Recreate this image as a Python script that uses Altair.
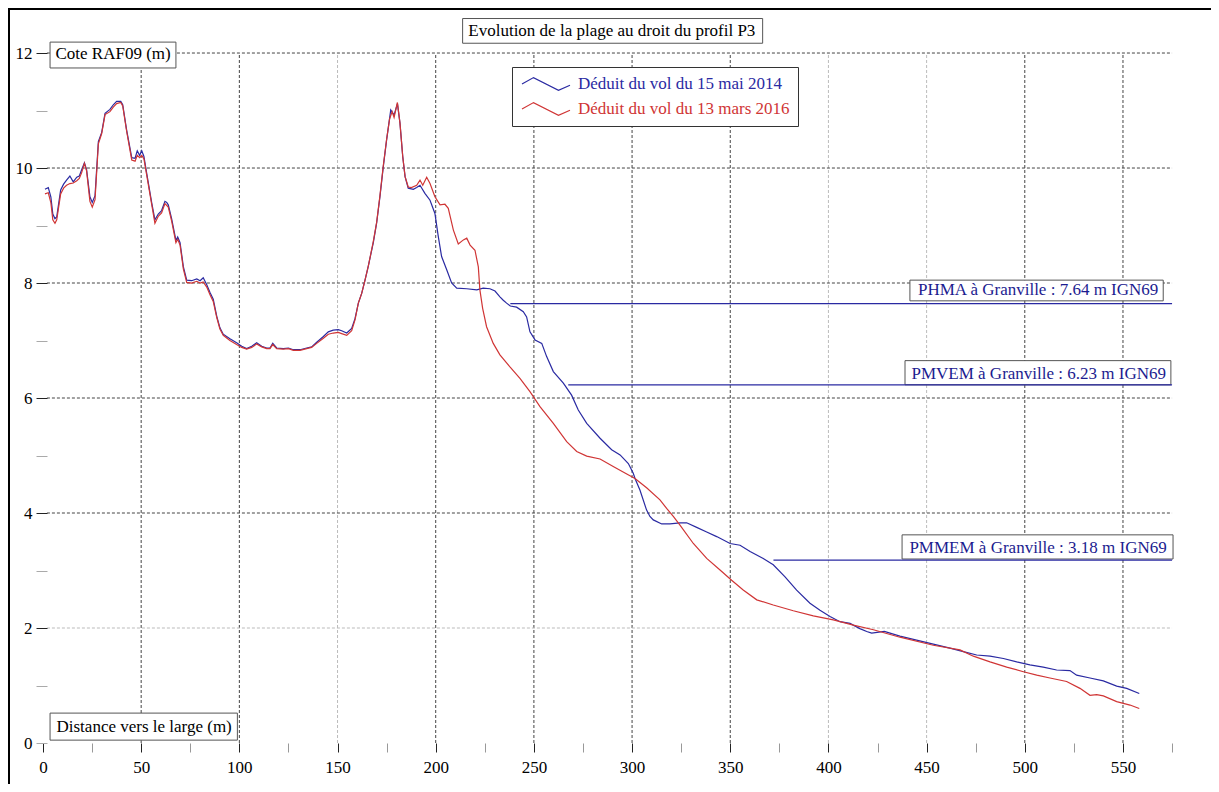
import altair as alt
import pandas as pd

# ---------------- data ----------------
series_names = ["Déduit du vol du 15 mai 2014", "Déduit du vol du 13 mars 2016"]

dist_2014 = [1, 2.7, 4, 5, 6.1, 7, 9, 10.5, 12, 13.7, 15.4, 17.2, 18.5, 19.7, 21.1, 22.2, 23.9, 25.1, 26.5,
             28.2, 29.9, 31.6, 34.1, 35.8, 37.5, 39.6, 40.6, 42.6, 45.2, 46.9, 48.0, 49.2, 50.3, 51.4, 52.8,
             55.4, 57.0, 58.7, 60.4, 62.1, 63.0, 63.8, 65.5, 67.7, 68.6, 69.8, 71.5, 73.2, 75.7, 78.3, 80,
             81.6, 83.4, 85, 86.7, 88.5, 90.1, 91.8, 95.2, 98.6, 101.2, 103.7, 106.3, 108.8, 111.4, 113.9,
             115.6, 117.0, 119, 122.4, 125, 127.5, 130.9, 134.3, 136.8, 139.4, 142.8, 145.3, 147.8, 150.4,
             152.1, 154.7, 157.2, 158.9, 160.6, 162.3, 164, 165.7, 168.2, 169.9, 171.6, 173.3, 175.0, 177.1,
             178.8, 180.5, 181.8, 183.2, 184.4, 186, 188.6, 190.3, 192, 194.5, 197.1, 199.6, 201.3, 203,
             205.6, 208.1, 210.7, 215.8, 220.9, 224.2, 227.6, 230.2, 232.7, 234.4, 236.1, 238, 241.2, 244.6,
             246.3, 248, 250.6, 254, 256.5, 259.9, 265, 269.2, 272.6, 276.9, 283.7, 289.6, 293.9, 298.1,
             300.6, 301.5, 304, 307.4, 309.1, 310.8, 315.1, 319.3, 324.4, 327.8, 332.9, 338, 343.1, 349.9,
             355, 360.1, 366.8, 371.9, 377.9, 383.8, 390.6, 395.7, 400.8, 405.9, 411, 416, 419.5, 422, 428.5,
             436.4, 444.9, 453.4, 461.9, 468.7, 475.5, 482.3, 489.1, 495.9, 502.6, 509.4, 516.2, 523, 526.4,
             533.2, 540, 546.8, 551.9, 558.3]
cote_2014 = [9.63, 9.66, 9.50, 9.20, 9.12, 9.15, 9.62, 9.72, 9.79, 9.86, 9.76, 9.84, 9.86, 9.97, 10.09, 9.97,
             9.50, 9.40, 9.52, 10.46, 10.62, 10.95, 11.02, 11.10, 11.16, 11.16, 11.10, 10.66, 10.18, 10.17,
             10.30, 10.22, 10.30, 10.20, 9.91, 9.39, 9.10, 9.20, 9.26, 9.42, 9.40, 9.36, 9.12, 8.74, 8.80,
             8.70, 8.28, 8.05, 8.04, 8.07, 8.04, 8.09, 7.97, 7.84, 7.72, 7.42, 7.22, 7.11, 7.03, 6.96, 6.90,
             6.86, 6.90, 6.96, 6.90, 6.87, 6.87, 6.95, 6.87, 6.86, 6.87, 6.84, 6.84, 6.87, 6.89, 6.97, 7.07,
             7.15, 7.18, 7.19, 7.17, 7.13, 7.21, 7.38, 7.65, 7.82, 8.05, 8.30, 8.70, 9.04, 9.50, 10.02,
             10.49, 11.01, 10.92, 11.12, 10.78, 10.20, 9.85, 9.65, 9.63, 9.66, 9.70, 9.56, 9.44, 9.21, 8.81,
             8.46, 8.23, 8.00, 7.91, 7.90, 7.88, 7.91, 7.90, 7.86, 7.76, 7.70, 7.65, 7.60, 7.58, 7.50, 7.41,
             7.15, 7.01, 6.95, 6.72, 6.46, 6.26, 6.05, 5.79, 5.56, 5.30, 5.10, 5.01, 4.86, 4.69, 4.60, 4.40,
             4.05, 3.94, 3.88, 3.81, 3.81, 3.83, 3.83, 3.75, 3.67, 3.59, 3.47, 3.44, 3.33, 3.21, 3.10, 2.89,
             2.66, 2.43, 2.31, 2.20, 2.11, 2.08, 1.99, 1.94, 1.91, 1.94, 1.86, 1.79, 1.72, 1.65, 1.59, 1.53,
             1.51, 1.47, 1.41, 1.36, 1.32, 1.27, 1.26, 1.18, 1.13, 1.08, 0.99, 0.95, 0.86]

dist_2016 = [1, 2.7, 4, 5, 6.1, 7, 9, 10.5, 12, 13.7, 15.4, 17.2, 18.5, 19.7, 21.1, 22.2, 23.9, 25.1, 26.5,
             28.2, 29.9, 31.6, 34.1, 35.8, 37.5, 39.6, 40.6, 42.6, 45.2, 46.9, 48.0, 49.2, 50.3, 51.4, 52.8,
             55.4, 57.0, 58.7, 60.4, 62.1, 63.8, 65.5, 67.7, 68.6, 69.8, 71.5, 73.2, 75.7, 78.3, 80, 81.6,
             83.4, 85, 86.7, 88.5, 90.1, 91.8, 95.2, 98.6, 101.2, 103.7, 106.3, 108.8, 111.4, 113.9, 115.6,
             117.0, 119, 122.4, 125, 127.5, 130.9, 134.3, 136.8, 139.4, 142.8, 145.3, 147.8, 150.4, 152.1,
             154.7, 157.2, 158.9, 160.6, 162.3, 164, 165.7, 168.2, 169.9, 171.6, 173.3, 175.0, 176.5, 177.8,
             178.8, 180.5, 181.8, 183.2, 184.4, 186, 187.6, 190.3, 192, 193.4, 195.4, 197.1, 199.6, 202.2,
             204.7, 206.4, 209, 211.5, 214.1, 215.8, 217.5, 220, 221.7, 222.5, 223.9, 225.9, 229.3, 232.7,
             237.8, 242.9, 248, 253.1, 259.9, 266.7, 271.8, 276.9, 283.7, 290.4, 297.3, 301.5, 307.4, 314.2,
             317.6, 321, 324.4, 331.2, 338, 344.8, 350.7, 356.6, 363.5, 371.9, 382.1, 392.3, 402.5, 412.7,
             422.9, 436.4, 453.4, 467, 473.8, 482.3, 490.8, 499.3, 506.1, 512.8, 521.3, 528.1, 533.2, 536.6,
             540, 546.8, 553.6, 558.3]
cote_2016 = [9.55, 9.57, 9.40, 9.10, 9.04, 9.10, 9.55, 9.65, 9.70, 9.73, 9.74, 9.78, 9.82, 9.92, 10.08, 9.95,
             9.42, 9.32, 9.45, 10.42, 10.60, 10.93, 10.98, 11.06, 11.12, 11.14, 11.08, 10.64, 10.14, 10.12,
             10.22, 10.18, 10.22, 10.16, 9.88, 9.36, 9.04, 9.16, 9.22, 9.38, 9.32, 9.08, 8.70, 8.76, 8.66,
             8.24, 8.01, 8.00, 8.03, 8.00, 8.02, 7.93, 7.80, 7.68, 7.40, 7.20, 7.09, 7.00, 6.93, 6.88, 6.85,
             6.88, 6.94, 6.89, 6.86, 6.86, 6.93, 6.86, 6.85, 6.86, 6.83, 6.83, 6.86, 6.88, 6.95, 7.04, 7.11,
             7.13, 7.14, 7.12, 7.09, 7.17, 7.36, 7.65, 7.82, 8.05, 8.30, 8.72, 9.05, 9.52, 10.04, 10.50,
             10.85, 10.98, 10.88, 11.14, 10.78, 10.20, 9.85, 9.67, 9.66, 9.70, 9.79, 9.70, 9.84, 9.73, 9.50,
             9.36, 9.37, 9.30, 8.92, 8.68, 8.75, 8.78, 8.66, 8.57, 8.28, 7.88, 7.56, 7.24, 6.95, 6.75, 6.54,
             6.34, 6.11, 5.85, 5.56, 5.24, 5.07, 4.99, 4.94, 4.81, 4.68, 4.60, 4.44, 4.23, 4.08, 3.94, 3.79,
             3.47, 3.21, 3.01, 2.83, 2.66, 2.49, 2.40, 2.30, 2.21, 2.14, 2.05, 1.97, 1.84, 1.70, 1.62, 1.51,
             1.41, 1.32, 1.24, 1.18, 1.13, 1.07, 0.95, 0.83, 0.84, 0.82, 0.72, 0.66, 0.60]

level_names = ["PHMA", "PMVEM", "PMMEM"]
level_values = [7.64, 6.23, 3.18]
level_start = [238.0, 267.5, 372.0]
level_end = 575

x_tick_values = list(range(0, 576, 25))
y_tick_values = list(range(0, 13))
x_grid_values = list(range(50, 551, 50))
y_grid_values = list(range(2, 13, 2))

chart_title = "Evolution de la plage au droit du profil P3"
x_title = "Distance vers le large (m)"
y_title = "Cote RAF09 (m)"

# ---------------- styles / layout ----------------
FONT = "Liberation Serif"
FS = 17
BLUE = "#2a2aa2"
RED = "#d03535"
NAVY = "#1c1c90"
GRID_DARK = "#444444"
GRID_LIGHT = "#bbbbbb"
W, H = 1203, 776
X_DOMAIN = [-17.82, 594.83]
Y_DOMAIN = [-0.713, 12.783]
light_x_grid = [150, 400, 450]
light_y_grid = [2]
grid_x_span = (2, 575)
grid_y_span = (0, 12)

# annotation placement (data units)
title_pos = (216.6, 12.39)
label_boxes = [(213.7, 366.5, 12.17, 12.60),   # title
               (3.6, 67.7, 11.74, 12.19),      # y axis title
               (3.6, 99.0, 0.05, 0.52),        # x axis title
               (441.5, 570.5, 7.69, 8.05),     # PHMA
               (439.0, 574.4, 6.23, 6.65),     # PMVEM
               (437.5, 575.5, 3.20, 3.62)]     # PMMEM
level_label_pos = [(568.0, 7.87), (571.9, 6.42), (572.3, 3.40)]

# ---------------- tables ----------------
lines_df = pd.DataFrame({
    "distance": dist_2014 + dist_2016,
    "cote": cote_2014 + cote_2016,
    "serie": [series_names[0]] * len(dist_2014) + [series_names[1]] * len(dist_2016),
})
gv_df = pd.DataFrame({
    "gx": x_grid_values,
    "gy0": [grid_y_span[0]] * len(x_grid_values),
    "gy1": [grid_y_span[1]] * len(x_grid_values),
    "shade": [GRID_LIGHT if v in light_x_grid else GRID_DARK for v in x_grid_values],
})
gh_df = pd.DataFrame({
    "gy": y_grid_values,
    "gx0": [grid_x_span[0]] * len(y_grid_values),
    "gx1": [grid_x_span[1]] * len(y_grid_values),
    "shade": [GRID_LIGHT if v in light_y_grid else GRID_DARK for v in y_grid_values],
})
box_df = pd.DataFrame(label_boxes, columns=["bx0", "bx1", "by0", "by1"])
level_df = pd.DataFrame({
    "name": level_names,
    "level": level_values,
    "x0": level_start,
    "x1": [level_end] * len(level_names),
    "label": [f"{n} à Granville : {v:.2f} m IGN69" for n, v in zip(level_names, level_values)],
    "tx": [p[0] for p in level_label_pos],
    "ty": [p[1] for p in level_label_pos],
})
title_df = pd.DataFrame({"t": [chart_title], "tx": [title_pos[0]], "ty": [title_pos[1]]})
one_df = pd.DataFrame({"k": [0]})

# ---------------- scales / axes ----------------
xscale = alt.Scale(domain=X_DOMAIN, nice=False, zero=False)
yscale = alt.Scale(domain=Y_DOMAIN, nice=False, zero=False)

x_axis = alt.Axis(
    orient="bottom", offset=-41, values=x_tick_values,
    labelExpr="datum.value % 50 == 0 ? datum.label : ''",
    domain=False, grid=False, tickSize=9, tickWidth=1,
    tickColor={"condition": {"test": "datum.value % 50 == 0", "value": "#222222"}, "value": "#999999"},
    labelFont=FONT, labelFontSize=FS, labelColor="black", labelPadding=7,
    labelFlush=False, labelOverlap=False, labelBound=False,
    title=x_title, titleFont=FONT, titleFontSize=FS, titleFontWeight="normal", titleColor="black",
    titleAngle=0, titleAlign="left", titleBaseline="middle", titleX=48, titleY=-17, zindex=1,
)
y_axis = alt.Axis(
    orient="left", offset=-39, values=y_tick_values,
    labelExpr="datum.value % 2 == 0 ? datum.label : ''",
    domain=False, grid=False, tickSize=11, tickWidth=1,
    tickColor={"condition": {"test": "datum.value % 2 == 0 && datum.value > 0", "value": "#222222"},
               "value": "#aaaaaa"},
    labelFont=FONT, labelFontSize=FS, labelColor="black", labelPadding=4,
    labelFlush=False, labelOverlap=False, labelBound=False,
    title=y_title, titleFont=FONT, titleFontSize=FS, titleFontWeight="normal", titleColor="black",
    titleAngle=0, titleAlign="left", titleBaseline="middle", titleX=8, titleY=45, zindex=1,
)


def ex(field):
    return alt.X(f"{field}:Q", scale=xscale, axis=x_axis)


def ey(field):
    return alt.Y(f"{field}:Q", scale=yscale, axis=y_axis)


legend = alt.Legend(
    title=None, orient="none", legendX=504, legendY=59,
    symbolType="M-3,0 L-1.56,-0.8 L1.56,0.79 L3,0.16", symbolSize=256, symbolStrokeWidth=1.2,
    symbolFillColor="transparent", symbolOffset=17, labelOffset=23, labelLimit=0,
    labelFont=FONT, labelFontSize=FS,
    labelColor={"expr": f"indexof(datum.label, '2014') >= 0 ? '{BLUE}' : '{RED}'"},
    padding=8, rowPadding=7, strokeColor="#333333", fillColor="white",
)

# ---------------- layers ----------------
grid_v = alt.Chart(gv_df).mark_rule(strokeDash=[3, 2], strokeWidth=1).encode(
    x=ex("gx"), y=ey("gy0"), y2=alt.Y2("gy1"), stroke=alt.Stroke("shade:N", scale=None))
grid_h = alt.Chart(gh_df).mark_rule(strokeDash=[3, 2], strokeWidth=1).encode(
    x=ex("gx0"), x2=alt.X2("gx1"), y=ey("gy"), stroke=alt.Stroke("shade:N", scale=None))
boxes = alt.Chart(box_df).mark_rect(fill="white", stroke="#555555", strokeWidth=1).encode(
    x=ex("bx0"), x2=alt.X2("bx1"), y=ey("by0"), y2=alt.Y2("by1"))
lines = alt.Chart(lines_df).mark_line(strokeWidth=1.2).encode(
    x=ex("distance"), y=ey("cote"),
    color=alt.Color("serie:N", scale=alt.Scale(domain=series_names, range=[BLUE, RED]), legend=legend))
levels = alt.Chart(level_df).mark_rule(color=BLUE, strokeWidth=1.2).encode(
    x=ex("x0"), x2=alt.X2("x1"), y=ey("level"))
level_text = alt.Chart(level_df).mark_text(
    align="right", baseline="middle", font=FONT, fontSize=FS, color=NAVY).encode(
    x=ex("tx"), y=ey("ty"), text="label:N")
title_text = alt.Chart(title_df).mark_text(
    align="left", baseline="middle", font=FONT, fontSize=FS, color="black").encode(
    x=ex("tx"), y=ey("ty"), text="t:N")
frame_left = alt.Chart(one_df).mark_rule(color="black", strokeWidth=3).encode(
    x=alt.value(0.5), y=alt.value(0), y2=alt.value(H))
frame_top = alt.Chart(one_df).mark_rule(color="black", strokeWidth=2).encode(
    y=alt.value(1), x=alt.value(0), x2=alt.value(W))

chart = alt.layer(
    grid_v, grid_h, boxes, lines, levels, level_text, title_text, frame_left, frame_top
).properties(
    width=W, height=H, autosize=alt.AutoSizeParams(type="none"), padding=0
).configure_view(stroke=None).configure(background="white")

chart.save("out.html", embed_options={"renderer": "svg", "actions": False})
